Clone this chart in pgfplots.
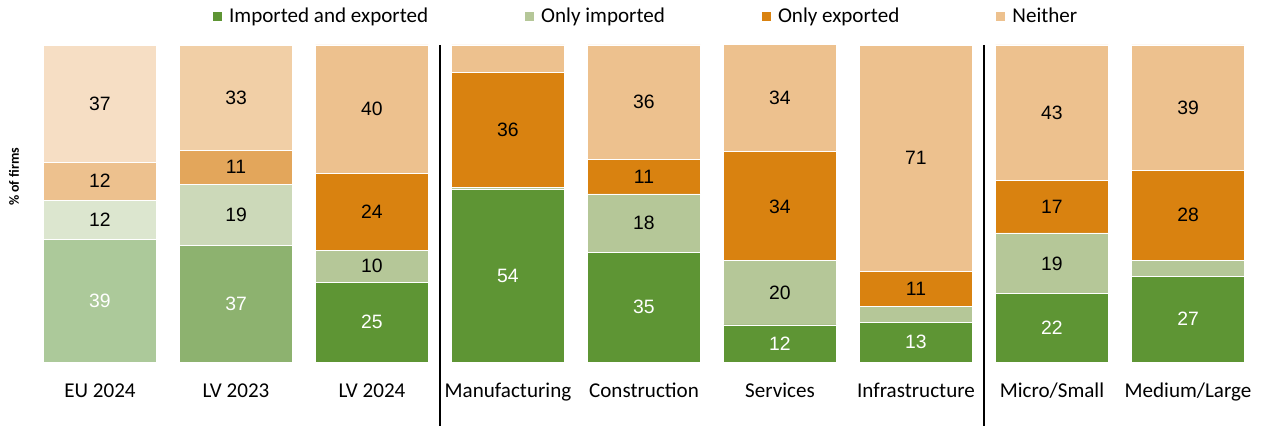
\documentclass[border=0pt]{standalone}
\usepackage{pgfplots}
\pgfplotsset{compat=1.18}
\usepackage{pgfplotstable}
\usepackage{fontspec}
\setmainfont{Carlito}
\newfontfamily\arial{Liberation Sans}

% main colours
\definecolor{cBoth}{RGB}{94,149,52}
\definecolor{cImp}{RGB}{181,199,152}
\definecolor{cExp}{RGB}{217,130,16}
\definecolor{cNone}{RGB}{237,193,142}
% EU 2024 (faded)
\definecolor{euBoth}{RGB}{172,201,154}
\definecolor{euImp}{RGB}{220,230,207}
\definecolor{euExp}{RGB}{237,193,142}
\definecolor{euNone}{RGB}{246,222,196}
% LV 2023 (half faded)
\definecolor{lvBoth}{RGB}{141,178,111}
\definecolor{lvImp}{RGB}{204,217,185}
\definecolor{lvExp}{RGB}{227,166,91}
\definecolor{lvNone}{RGB}{241,207,166}

% x: 2 LV 2024, 3 Manufacturing, 4 Construction, 5 Services,
%    6 Infrastructure, 7 Micro/Small, 8 Medium/Large
\pgfplotstableread{
x v lbl
2 25.2 25
3 54.3 54
4 34.7 35
5 11.7 12
6 12.6 13
7 21.5 22
8 27.1 27
}\tabBoth
\pgfplotstableread{
x v lbl
2 10.1 10
3 0.9 {}
4 18.3 18
5 20.2 20
6 5.0 {}
7 19.2 19
8 5.0 {}
}\tabImp
\pgfplotstableread{
x v lbl
2 24.3 24
3 36.0 36
4 11.0 11
5 34.4 34
6 11.0 11
7 16.7 17
8 28.4 28
}\tabExp
\pgfplotstableread{
x v lbl
2 40.4 40
3 8.8 {}
4 36.0 36
5 33.8 34
6 71.3 71
7 42.6 43
8 39.5 39
}\tabNone

\pgfplotsset{
  base/.style={
    scale only axis, width=918pt, height=237.75pt,
    at={(24pt,47.25pt)}, anchor=south west,
    xmin=-0.5, xmax=8.5, ymin=0, ymax=100,
    enlargelimits=false,
    ybar stacked, bar width=0.83,
    point meta=explicit symbolic,
    nodes near coords,
    every node near coord/.append style={anchor=center,
      font=\arial\fontsize{14.5}{17}\selectfont},
    every axis plot/.append style={draw=white, line width=0.6pt},
  },
  wlab/.style={every node near coord/.append style={text=white}},
}

\begin{document}
\begin{tikzpicture}
\useasboundingbox (0,0) rectangle (947.25pt,318.75pt);

% EU 2024
\begin{axis}[base, hide axis]
\addplot[fill=euBoth, wlab] coordinates {(0,38.8) [39]};
\addplot[fill=euImp] coordinates {(0,12.3) [12]};
\addplot[fill=euExp] coordinates {(0,12.0) [12]};
\addplot[fill=euNone] coordinates {(0,36.9) [37]};
\end{axis}

% LV 2023
\begin{axis}[base, hide axis]
\addplot[fill=lvBoth, wlab] coordinates {(1,36.9) [37]};
\addplot[fill=lvImp] coordinates {(1,19.2) [19]};
\addplot[fill=lvExp] coordinates {(1,10.7) [11]};
\addplot[fill=lvNone] coordinates {(1,33.1) [33]};
\end{axis}

% the rest, with ticks, legend and separators
\begin{axis}[base, clip=false,
  axis line style={draw=none},
  major tick length=0pt,
  ytick=\empty,
  xtick={0,...,8},
  xticklabels={EU 2024, LV 2023, LV 2024, Manufacturing, Construction,
    Services, Infrastructure, Micro/Small, Medium/Large},
  xticklabel style={font=\fontsize{15.8}{19}\selectfont, anchor=base, yshift=-26.25pt},
  ylabel={\% of firms},
  every axis y label/.style={at={(axis description cs:-0.0147,0.584)},
    rotate=90, anchor=center, font=\bfseries\fontsize{10.5}{12}\selectfont},
  legend style={at={(axis description cs:0.5015,1.0915)}, anchor=center,
    draw=none, fill=none, legend columns=4,
    font=\fontsize{15.8}{19}\selectfont,
    /tikz/every odd column/.append style={column sep=3pt},
    /tikz/every even column/.append style={column sep=69.7pt}},
  legend image code/.code={\fill[#1] (0pt,-3.8pt) rectangle (7.5pt,3.7pt);},
]
\addplot[fill=cBoth, wlab] table[x=x, y=v, meta=lbl] {\tabBoth};
\addlegendentry{Imported and exported}
\addplot[fill=cImp] table[x=x, y=v, meta=lbl] {\tabImp};
\addlegendentry{Only imported}
\addplot[fill=cExp] table[x=x, y=v, meta=lbl] {\tabExp};
\addlegendentry{Only exported}
\addplot[fill=cNone] table[x=x, y=v, meta=lbl] {\tabNone};
\addlegendentry{Neither}

\draw[black, line width=1.6pt] (axis cs:2.5,100) -- (axis cs:2.5,-21);
\draw[black, line width=1.6pt] (axis cs:6.5,100) -- (axis cs:6.5,-21);
\end{axis}
\end{tikzpicture}
\end{document}
